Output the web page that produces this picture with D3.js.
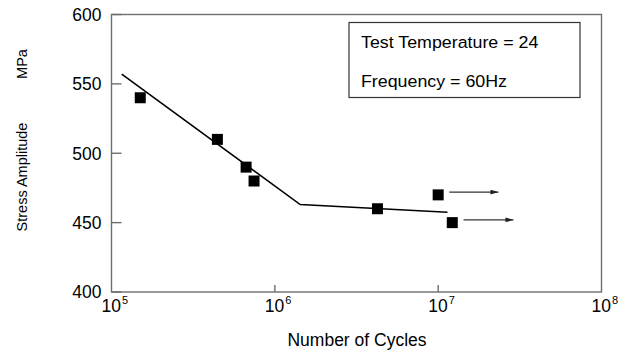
<!DOCTYPE html>
<html>
<head>
<meta charset="utf-8">
<script src="https://cdn.jsdelivr.net/npm/d3@7"></script>
<style>
  body { margin: 0; background: #fff; }
  svg { display: block; font-family: "Liberation Sans", Arial, sans-serif; }
</style>
</head>
<body>
<svg></svg>
<script>
let width = 629;
let height = 352;

// test points: cycles and stress amplitude (MPa)
let cycles = [1.5e5, 4.45e5, 6.67e5, 7.46e5, 4.25e6, 1.0e7, 1.22e7];
let stress = [540, 510, 490, 480, 460, 470, 450];

// fitted S-N curve
let fitCycles = [1.155e5, 1.43e6, 1.14e7];
let fitStress = [557, 463, 457.5];

// run-out arrows (unbroken specimens)
let runoutFrom = [1.17e7, 1.43e7];
let runoutTo = [2.34e7, 2.89e7];
let runoutStress = [472, 452];

let yTicks = [400, 450, 500, 550, 600];
let xTicks = [1e5, 1e6, 1e7, 1e8];
let legendLines = ['Test Temperature = 24', 'Frequency = 60Hz'];

let plotLeft = 111.5, plotRight = 601.5, plotTop = 14.5, plotBottom = 292;

let xScale = d3.scaleLog()
               .domain([1e5, 1e8])
               .range([plotLeft, plotRight]);

let yScale = d3.scaleLinear()
               .domain([400, 600])
               .range([plotBottom, plotTop]);

let svg = d3.select('svg')
    .attr('width', width)
    .attr('height', height);

let axisColor = '#6e6e6e';

// frame
svg.append('rect')
    .attr('x', plotLeft)
    .attr('y', plotTop)
    .attr('width', plotRight - plotLeft)
    .attr('height', plotBottom - plotTop)
    .attr('fill', 'none')
    .attr('stroke', axisColor)
    .attr('stroke-width', 1.4);

// y ticks (inward) and labels
svg.selectAll('.ytick')
  .data(yTicks)
  .enter()
  .append('line')
    .attr('x1', plotLeft)
    .attr('x2', plotLeft + 10)
    .attr('y1', d => yScale(d))
    .attr('y2', d => yScale(d))
    .attr('stroke', axisColor)
    .attr('stroke-width', 1.4);

svg.selectAll('.ylabel')
  .data(yTicks)
  .enter()
  .append('text')
    .attr('x', 101.5)
    .attr('y', d => yScale(d))
    .attr('dy', '0.36em')
    .attr('text-anchor', 'end')
    .attr('font-size', 17.5)
    .text(d => d);

// x ticks (inward) and labels
svg.selectAll('.xtick')
  .data(xTicks.slice(1, -1))
  .enter()
  .append('line')
    .attr('x1', d => xScale(d))
    .attr('x2', d => xScale(d))
    .attr('y1', plotBottom)
    .attr('y2', plotBottom - 7)
    .attr('stroke', axisColor)
    .attr('stroke-width', 1.4);

let xLabels = svg.selectAll('.xlabel')
  .data(xTicks)
  .enter()
  .append('text')
    .attr('x', d => xScale(d) - 10)
    .attr('y', 312)
    .attr('font-size', 17.5);

xLabels.append('tspan').text('10');
xLabels.append('tspan')
    .attr('font-size', 11)
    .attr('dx', 1)
    .attr('dy', -8)
    .text(d => Math.round(Math.log10(d)));

// axis titles
svg.append('text')
    .attr('x', 357)
    .attr('y', 346)
    .attr('text-anchor', 'middle')
    .attr('font-size', 17.5)
    .text('Number of Cycles');

svg.append('text')
    .attr('transform', 'translate(27,177) rotate(-90)')
    .attr('text-anchor', 'middle')
    .attr('font-size', 14.5)
    .text('Stress Amplitude');

svg.append('text')
    .attr('transform', 'translate(27,64) rotate(-90)')
    .attr('text-anchor', 'middle')
    .attr('font-size', 14.5)
    .text('MPa');

// fitted line
let line = d3.line()
             .x(d => xScale(d[0]))
             .y(d => yScale(d[1]));

svg.append('path')
    .datum(d3.zip(fitCycles, fitStress))
    .attr('d', line)
    .attr('fill', 'none')
    .attr('stroke', '#000')
    .attr('stroke-width', 1.6);

// run-out arrows
svg.append('defs').append('marker')
    .attr('id', 'head')
    .attr('viewBox', '0 0 10 6')
    .attr('refX', 10)
    .attr('refY', 3)
    .attr('markerWidth', 8)
    .attr('markerHeight', 5)
    .attr('markerUnits', 'userSpaceOnUse')
    .attr('orient', 'auto')
  .append('path')
    .attr('d', 'M0,0L10,3L0,6Z')
    .attr('fill', '#222');

svg.selectAll('.runout')
  .data(d3.zip(runoutFrom, runoutTo, runoutStress))
  .enter()
  .append('line')
    .attr('x1', d => xScale(d[0]))
    .attr('x2', d => xScale(d[1]))
    .attr('y1', d => yScale(d[2]))
    .attr('y2', d => yScale(d[2]))
    .attr('stroke', '#333')
    .attr('stroke-width', 1.3)
    .attr('marker-end', 'url(#head)');

// data squares
let size = 11;
svg.selectAll('.pt')
  .data(d3.zip(cycles, stress))
  .enter()
  .append('rect')
    .attr('x', d => xScale(d[0]) - size / 2)
    .attr('y', d => yScale(d[1]) - size / 2)
    .attr('width', size)
    .attr('height', size)
    .attr('fill', '#000');

// legend box
svg.append('rect')
    .attr('x', 349)
    .attr('y', 22.5)
    .attr('width', 231)
    .attr('height', 75)
    .attr('fill', '#fff')
    .attr('stroke', '#333')
    .attr('stroke-width', 1.2);

// text in the source is a little wider than Liberation Sans, stretch it
svg.selectAll('.legend')
  .data(legendLines)
  .enter()
  .append('text')
    .attr('transform', (d, i) => `translate(361,${48 + i * 39}) scale(1.08,1)`)
    .attr('font-size', 16.5)
    .text(d => d);
</script>
</body>
</html>
